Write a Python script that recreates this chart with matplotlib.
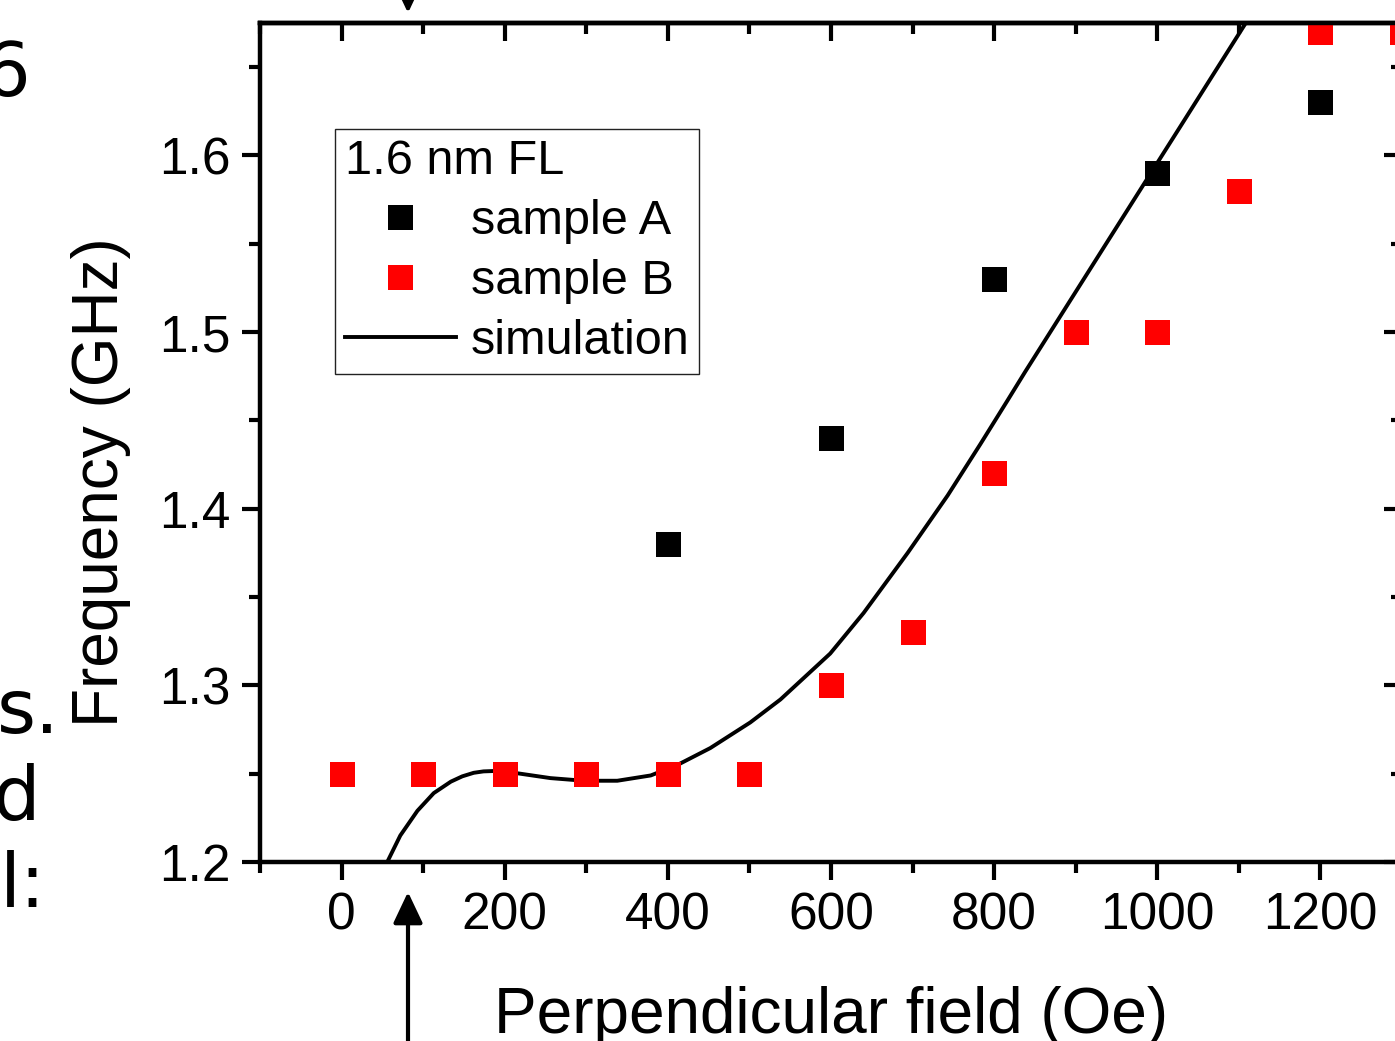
import matplotlib

matplotlib.use("Agg")
import matplotlib.pyplot as plt
from matplotlib.ticker import MultipleLocator, FormatStrFormatter

# measured points
field_a = [400, 600, 800, 1000, 1200]
freq_a = [1.38, 1.44, 1.53, 1.59, 1.63]

field_b = [0, 100, 200, 300, 400, 500, 600, 700, 800, 900, 1000, 1100, 1200, 1300]
freq_b = [1.25, 1.25, 1.25, 1.25, 1.25, 1.25, 1.30, 1.33, 1.42, 1.50, 1.50, 1.58, 1.67, 1.67]

# simulated curve
sim_field = [56, 72, 93, 113, 134, 148, 162, 174, 186, 216, 256, 297, 338, 379, 412,
             452, 501, 538, 599, 640, 694, 743, 783, 816, 838, 890, 939, 990, 1028,
             1070, 1106, 1112]
sim_freq = [1.200, 1.215, 1.229, 1.239, 1.2455, 1.2485, 1.2505, 1.2513, 1.2515, 1.2502,
            1.2475, 1.246, 1.246, 1.249, 1.255, 1.2645, 1.279, 1.292, 1.318, 1.341,
            1.375, 1.4075, 1.4365, 1.461, 1.4775, 1.5155, 1.5513, 1.5885, 1.6162,
            1.6469, 1.6732, 1.6776]

legend_title = "1.6 nm FL"

W, H = 1395, 1041
SPINE_LW = 3.2
TICK_W = 3.0

plt.rcParams["font.family"] = ["Liberation Sans", "DejaVu Sans"]

fig = plt.figure(figsize=(W / 100, H / 100), dpi=100)
fig.patch.set_facecolor("white")
# axes run past the right edge of the picture (it is cropped there)
ax = fig.add_axes([260 / W, 179 / H, 1142 / W, 839 / H])

sim_line, = ax.plot(sim_field, sim_freq, color="black", lw=2.8, label="simulation",
                    solid_joinstyle="round")
pts_a, = ax.plot(field_a, freq_a, "s", color="black", ms=18, mew=0, label="sample A")
pts_b, = ax.plot(field_b, freq_b, "s", color="red", ms=18, mew=0, label="sample B")

ax.set_xlim(-100, 1300)
ax.set_ylim(1.2, 1.675)
ax.xaxis.set_major_locator(MultipleLocator(200))
ax.xaxis.set_minor_locator(MultipleLocator(100))
ax.yaxis.set_major_locator(MultipleLocator(0.1))
ax.yaxis.set_minor_locator(MultipleLocator(0.05))
ax.yaxis.set_major_formatter(FormatStrFormatter("%.1f"))

for sp in ax.spines.values():
    sp.set_linewidth(SPINE_LW)

ax.tick_params(which="both", direction="out", width=TICK_W, labelsize=37, pad=8,
               top=False, right=False)
ax.tick_params(which="major", length=13)
ax.tick_params(which="minor", length=8)

# top / right ticks point inwards, Origin style
top = ax.secondary_xaxis("top")
top.xaxis.set_major_locator(MultipleLocator(200))
top.xaxis.set_minor_locator(MultipleLocator(100))
top.tick_params(which="both", direction="in", width=TICK_W, labeltop=False)
top.tick_params(which="major", length=13)
top.tick_params(which="minor", length=8)
top.spines["top"].set_linewidth(SPINE_LW)

right = ax.secondary_yaxis("right")
right.yaxis.set_major_locator(MultipleLocator(0.1))
right.yaxis.set_minor_locator(MultipleLocator(0.05))
right.tick_params(which="both", direction="in", width=TICK_W, labelright=False)
right.tick_params(which="major", length=13)
right.tick_params(which="minor", length=8)
right.spines["right"].set_linewidth(SPINE_LW)

ax.set_xlabel("Perpendicular field (Oe)", fontsize=46)
ax.xaxis.set_label_coords(0.5, (862 - 1033) / 839)
ax.xaxis.label.set_verticalalignment("baseline")
ax.set_ylabel("Frequency (GHz)", fontsize=46)
ax.yaxis.set_label_coords((118 - 260) / 1142, (862 - 482) / 839)
ax.yaxis.label.set_verticalalignment("baseline")

leg = ax.legend(handles=[pts_a, pts_b, sim_line], title=legend_title,
                loc="upper left", bbox_to_anchor=((335 - 260) / 1142, (862 - 129) / 839),
                borderaxespad=0, fontsize=35, title_fontsize=35, alignment="left",
                frameon=True, fancybox=False, framealpha=1, edgecolor="#222222",
                handlelength=2.28, handletextpad=0.31, labelspacing=0.31, borderpad=0.2,
                numpoints=1)
leg.get_frame().set_linewidth(1.0)

# arrows from the surrounding page
arrow_kw = dict(arrowstyle="-|>,head_length=0.95,head_width=0.45", mutation_scale=20,
                lw=3, color="black", shrinkA=0, shrinkB=0)
ax.annotate("", xy=(408, H - 892), xytext=(408, -20), xycoords="figure pixels",
            textcoords="figure pixels", arrowprops=arrow_kw, annotation_clip=False)
ax.annotate("", xy=(408, H - 13), xytext=(408, H + 60), xycoords="figure pixels",
            textcoords="figure pixels", arrowprops=arrow_kw, annotation_clip=False)

# cut-off text of the page at the left edge
page_kw = dict(fontsize=54, family="DejaVu Sans", ha="right", va="baseline")
fig.text(30 / W, 1 - 96 / H, "6", **page_kw)
fig.text(60 / W, 1 - 733 / H, "s.", **page_kw)
fig.text(40 / W, 1 - 820 / H, "d", **page_kw)
fig.text(46 / W, 1 - 907 / H, "l:", **page_kw)

fig.savefig("out.png", dpi=100, facecolor="white")
plt.close(fig)
